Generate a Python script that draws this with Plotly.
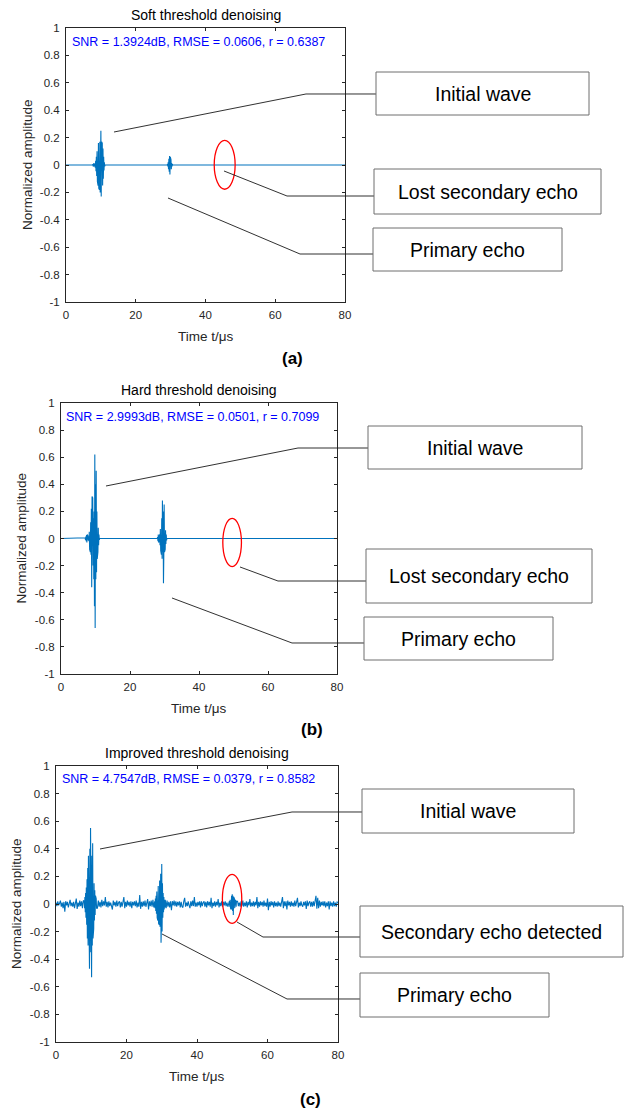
import numpy as np
import plotly.graph_objects as go

W, H = 624, 1109

# ---------------- data ----------------
time_ticks = [0, 20, 40, 60, 80]
amp_ticks = [-1, -0.8, -0.6, -0.4, -0.2, 0, 0.2, 0.4, 0.6, 0.8, 1]
amp_tick_labels = ["-1", "-0.8", "-0.6", "-0.4", "-0.2", "0", "0.2", "0.4", "0.6", "0.8", "1"]

burst_step = 0.1   # us between burst samples
noise_step = 0.25  # us between background samples

# (a) soft threshold
soft_b1_start = 7.6
soft_b1 = [0.0, 0.006, -0.01, 0.012, -0.012, 0.01, -0.008, 0.012, -0.02, 0.03,
           -0.045, 0.06, -0.08, 0.1, -0.12, 0.13, -0.15, 0.16, -0.17, 0.15,
           -0.18, 0.17, -0.2, 0.18, 0.25, -0.23, 0.17, -0.19, 0.16, -0.15,
           0.12, -0.1, 0.06, -0.04, 0.02, -0.01, 0.0]
soft_b2_start = 29.0
soft_b2 = [0.0, 0.005, -0.01, 0.02, -0.03, 0.045, -0.05, 0.065, -0.07, 0.06,
           -0.05, 0.04, -0.03, 0.015, -0.01, 0.005, 0.0]

# (b) hard threshold
hard_b1_start = 6.9
hard_b1 = [0.0, 0.005, -0.01, 0.015, -0.02, 0.025, -0.03, 0.03, -0.025, 0.02,
           -0.015, 0.01, -0.02, 0.05, -0.08, 0.1, -0.1, 0.12, -0.12, 0.22,
           -0.36, 0.31, -0.25, 0.3, -0.2, 0.15, -0.3, 0.2, -0.5, 0.62,
           -0.66, 0.4, -0.3, 0.5, -0.25, 0.2, -0.15, 0.12, -0.1, 0.08,
           -0.05, 0.03, -0.01, 0.0]
hard_b2_start = 27.9
hard_b2 = [0.0, 0.01, -0.02, 0.03, -0.03, 0.025, -0.02, 0.03, -0.05, 0.07,
           -0.09, 0.1, -0.12, 0.15, -0.15, 0.28, -0.1, 0.2, -0.33, -0.12,
           0.25, -0.1, 0.1, -0.08, 0.06, -0.04, 0.03, -0.015, 0.0]

# (c) improved threshold
imp_b1_start = 8.0
imp_b1 = [0.02, -0.03, 0.05, -0.06, 0.08, -0.1, 0.12, -0.15, 0.18, -0.25,
          0.26, -0.3, 0.35, -0.32, 0.3, -0.47, 0.4, -0.35, 0.55, -0.4,
          0.45, -0.53, 0.35, -0.3, 0.44, -0.25, 0.2, -0.18, 0.15, -0.12,
          0.1, -0.08, 0.06, -0.05, 0.04, -0.03]
imp_b2_start = 28.0
imp_b2 = [0.02, -0.03, 0.04, -0.05, 0.06, -0.07, 0.09, -0.1, 0.12, -0.12,
          0.13, -0.14, 0.15, -0.15, 0.17, -0.16, -0.16, 0.22, -0.28, -0.15,
          0.29, -0.2, 0.15, -0.1, 0.08, -0.06, 0.05, -0.04, 0.03, -0.025]
imp_echo_start = 49.2
imp_echo = [0.02, -0.02, 0.03, -0.03, 0.04, -0.04, 0.06, -0.04, 0.07, -0.05,
            0.06, -0.08, 0.05, -0.04, 0.04, -0.03, 0.03, -0.025, 0.025, -0.02, 0.02]
imp_noise = [
    0.01, -0.015, 0.02, -0.01, 0.005, 0.025, -0.02, 0.01, -0.03, 0.015,
    -0.055, 0.02, -0.01, 0.015, -0.025, 0.02, 0.03, -0.015, 0.01, -0.02,
    0.015, -0.03, 0.02, 0.04, -0.035, 0.01, -0.02, 0.025, -0.015, 0.02,
    -0.03, 0.025, 0.03, -0.04, 0.05, -0.06, 0.08, -0.1, 0.1, -0.1,
    0.1, -0.1, 0.08, -0.06, 0.05, -0.04, 0.03, -0.03, 0.025, -0.02,
    0.015, -0.025, 0.03, -0.015, 0.02, -0.01, 0.05, -0.02, 0.015, -0.025,
    0.02, -0.015, 0.01, -0.02, -0.04, 0.025, -0.01, 0.015, -0.02, 0.025,
    -0.015, 0.01, 0.02, -0.025, 0.015, -0.02, 0.01, 0.05, -0.03, 0.015,
    -0.02, 0.025, -0.01, 0.015, -0.02, 0.02, -0.03, 0.015, -0.01, 0.02,
    -0.015, 0.025, -0.025, 0.01, -0.02, 0.065, -0.035, 0.015, -0.02, 0.02,
    -0.015, 0.025, -0.02, 0.01, 0.035, -0.04, 0.02, -0.015, 0.025, -0.02,
    0.03, -0.025, 0.03, -0.03, 0.03, -0.03, 0.03, -0.03, 0.03, -0.03,
    0.03, -0.03, 0.03, -0.03, 0.03, -0.03, 0.025, -0.02, 0.015, -0.025,
    0.02, -0.045, 0.02, -0.01, 0.025, -0.015, 0.02, -0.02, 0.015, -0.01,
    0.02, -0.025, 0.015, -0.02, -0.025, 0.02, 0.045, -0.02, 0.01, -0.015,
    0.02, -0.01, -0.03, 0.02, -0.015, 0.025, -0.015, 0.05, -0.02, 0.01,
    -0.02, 0.015, -0.01, 0.02, -0.025, 0.02, -0.015, 0.01, 0.02, -0.02,
    0.015, -0.025, 0.02, -0.01, 0.015, -0.02, 0.045, -0.03, 0.01, -0.015,
    0.02, -0.02, 0.015, -0.01, 0.035, -0.025, 0.01, -0.015, 0.02, -0.02,
    0.015, -0.01, 0.02, -0.015, 0.01, -0.02, 0.02, -0.02, 0.02, -0.02,
    0.02, -0.02, 0.02, -0.02, 0.02, -0.02, 0.02, -0.015, 0.01, -0.02,
    0.02, -0.015, 0.025, -0.02, 0.01, -0.015, 0.02, -0.025, 0.015, -0.01,
    0.035, -0.02, 0.01, -0.015, 0.02, -0.02, 0.015, -0.01, 0.05, -0.03,
    0.015, -0.02, 0.02, -0.01, 0.015, -0.02, 0.025, -0.015, 0.01, -0.02,
    0.04, -0.045, 0.015, -0.02, 0.02, -0.01, 0.015, -0.025, 0.02, -0.015,
    0.01, -0.02, 0.02, -0.015, 0.01, -0.02, 0.015, 0.05, -0.03, 0.02,
    -0.015, 0.02, -0.04, 0.025, -0.01, 0.015, -0.02, 0.02, -0.015, 0.01,
    -0.02, 0.025, -0.015, 0.02, 0.045, -0.025, 0.01, -0.015, 0.02, -0.01,
    -0.02, 0.015, -0.01, 0.02, -0.035, 0.025, -0.015, 0.01, 0.02, -0.02,
    0.015, -0.02, 0.02, -0.015, 0.03, 0.06, -0.035, 0.045, -0.03, 0.025,
    -0.02, 0.015, -0.01, 0.02, -0.015, 0.02, -0.025, 0.01, -0.015, 0.02,
    -0.04, 0.02, -0.015, 0.01, -0.02, 0.02, -0.015, 0.01, -0.02, 0.015,
    0.01]

titles = ["Soft threshold denoising", "Hard threshold denoising", "Improved threshold denoising"]
metrics = ["SNR = 1.3924dB, RMSE = 0.0606, r = 0.6387",
           "SNR = 2.9993dB, RMSE = 0.0501, r = 0.7099",
           "SNR = 4.7547dB, RMSE = 0.0379, r = 0.8582"]
panel_tags = ["(a)", "(b)", "(c)"]
box_labels = [["Initial wave", "Lost secondary echo", "Primary echo"],
              ["Initial wave", "Lost secondary echo", "Primary echo"],
              ["Initial wave", "Secondary echo detected", "Primary echo"]]

# ---------------- helpers ----------------
def burst_xy(start, vals):
    t = start + burst_step * np.arange(len(vals))
    return t, np.array(vals, dtype=float)

def flat_trace(bursts):
    ts, vs = [np.array([0.0])], [np.array([0.0])]
    for s, v in bursts:
        t, y = burst_xy(s, v)
        ts.append(t); vs.append(y)
    ts.append(np.array([80.0])); vs.append(np.array([0.0]))
    return np.concatenate(ts), np.concatenate(vs)

def noisy_trace(noise, bursts):
    nt = noise_step * np.arange(len(noise))
    nv = np.array(noise, dtype=float)
    keep = np.ones(len(nt), bool)
    ts, vs = [], []
    for s, v in bursts:
        t, y = burst_xy(s, v)
        keep &= ~((nt >= t[0] - 0.05) & (nt <= t[-1] + 0.05))
        ts.append(t); vs.append(y)
    ts.append(nt[keep]); vs.append(nv[keep])
    t = np.concatenate(ts); v = np.concatenate(vs)
    o = np.argsort(t, kind="stable")
    return t[o], v[o]

traces = [
    flat_trace([(soft_b1_start, soft_b1), (soft_b2_start, soft_b2)]),
    flat_trace([(hard_b1_start, hard_b1), (hard_b2_start, hard_b2)]),
    noisy_trace(imp_noise, [(imp_b1_start, imp_b1), (imp_b2_start, imp_b2), (imp_echo_start, imp_echo)]),
]

def PX(x):
    return x / W

def PY(y):
    return 1 - y / H

# ---------------- layout geometry (pixels) ----------------
axes_px = [  # left, right, top, bottom
    (66, 345, 28, 302),
    (61, 337, 403, 674),
    (56, 338, 766, 1042),
]
FONT = "Liberation Sans, Arial, Helvetica, sans-serif"
AXC = "#262626"
BLUE = "#0072BD"

fig = go.Figure()
layout = dict(width=W, height=H, autosize=False,
              margin=dict(l=0, r=0, t=0, b=0, pad=0, autoexpand=False),
              paper_bgcolor="white", plot_bgcolor="white", showlegend=False,
              font=dict(family=FONT, size=12, color=AXC))

annotations = []
shapes = []

ellipses = [  # x0, x1, y0, y1 in data units
    (42.5, 48.5, -0.177, 0.18),
    (46.9, 52.3, -0.207, 0.149),
    (47.2, 52.7, -0.14, 0.215),
]
leaders = [  # three polylines per panel, pixel coords
    [[(114, 132), (306, 94), (376, 94)],
     [(224, 171), (287, 196), (374, 196)],
     [(168, 198), (300, 254), (373, 254)]],
    [[(106, 486), (298, 448), (368, 448)],
     [(240, 567), (278, 581), (366, 581)],
     [(172, 598), (292, 643), (364, 643)]],
    [[(100, 849), (292, 812), (362, 812)],
     [(237, 922), (263, 937), (360, 937)],
     [(162, 934), (287, 999), (360, 999)]],
]
boxes = [  # x0, x1, y0, y1 pixels
    [(376, 589, 72, 115), (374, 601, 169, 214), (373, 562, 228, 271)],
    [(368, 582, 426, 469), (366, 592, 549, 603), (364, 553, 617, 660)],
    [(362, 574, 789, 833), (360, 623, 906, 957), (360, 549, 973, 1017)],
]
metric_pos = [(70, 42), (64, 417), (60, 779)]
tag_pos = [(292, 358), (312, 729), (310, 1099)]
ylab_x = [27, 21, 16]

for i, (t, v) in enumerate(traces):
    sfx = "" if i == 0 else str(i + 1)
    fig.add_trace(go.Scatter(x=t, y=v, mode="lines", line=dict(color=BLUE, width=1.1),
                             xaxis="x" + sfx, yaxis="y" + sfx, hoverinfo="skip"))
    l, r, tp, b = axes_px[i]
    layout["xaxis" + sfx] = dict(
        domain=[PX(l), PX(r)], anchor="y" + sfx, range=[0, 80],
        tickvals=time_ticks, ticktext=[str(x) for x in time_ticks],
        ticks="inside", ticklen=3, tickcolor=AXC, showline=True, linecolor=AXC,
        linewidth=1, mirror="ticks", showgrid=False, zeroline=False, automargin=False,
        tickfont=dict(size=11.5, color=AXC, family=FONT), ticklabelstandoff=2)
    layout["yaxis" + sfx] = dict(
        domain=[PY(b), PY(tp)], anchor="x" + sfx, range=[-1, 1],
        tickvals=amp_ticks, ticktext=amp_tick_labels,
        ticks="inside", ticklen=3, tickcolor=AXC, showline=True, linecolor=AXC,
        linewidth=1, mirror="ticks", showgrid=False, zeroline=False, automargin=False,
        tickfont=dict(size=11.5, color=AXC, family=FONT), ticklabelstandoff=3)
    cx = (l + r) / 2
    cy = (tp + b) / 2
    annotations += [
        dict(text=titles[i], x=PX(cx), y=PY(tp - 13), xref="paper", yref="paper",
             showarrow=False, xanchor="center", yanchor="middle",
             font=dict(size=14, color="black", family=FONT)),
        dict(text="Time t/μs", x=PX(cx), y=PY(b + 34), xref="paper", yref="paper",
             showarrow=False, xanchor="center", yanchor="middle",
             font=dict(size=13.5, color=AXC, family=FONT)),
        dict(text="Normalized amplitude", x=PX(ylab_x[i]), y=PY(cy), xref="paper", yref="paper",
             showarrow=False, xanchor="center", yanchor="middle", textangle=-90,
             font=dict(size=13.5, color=AXC, family=FONT)),
        dict(text=metrics[i], x=PX(metric_pos[i][0]), y=PY(metric_pos[i][1]), xref="paper", yref="paper",
             showarrow=False, xanchor="left", yanchor="middle",
             font=dict(size=12.5, color="#0000FF", family=FONT)),
        dict(text="<b>%s</b>" % panel_tags[i], x=PX(tag_pos[i][0]), y=PY(tag_pos[i][1]), xref="paper", yref="paper",
             showarrow=False, xanchor="center", yanchor="middle",
             font=dict(size=17, color="black", family=FONT)),
    ]
    ex0, ex1, ey0, ey1 = ellipses[i]
    shapes.append(dict(type="circle", xref="x" + sfx, yref="y" + sfx, x0=ex0, x1=ex1, y0=ey0, y1=ey1,
                       line=dict(color="#FF0000", width=1.3)))
    for poly in leaders[i]:
        path = "M " + " L ".join("%.5f,%.5f" % (PX(px), PY(py)) for px, py in poly)
        shapes.append(dict(type="path", xref="paper", yref="paper", path=path,
                           line=dict(color="#1a1a1a", width=0.9)))
    for (bx0, bx1, by0, by1), lab in zip(boxes[i], box_labels[i]):
        shapes.append(dict(type="rect", xref="paper", yref="paper",
                           x0=PX(bx0), x1=PX(bx1), y0=PY(by1), y1=PY(by0),
                           line=dict(color="#6e6e6e", width=1), fillcolor="white"))
        annotations.append(dict(text=lab, x=PX((bx0 + bx1) / 2), y=PY((by0 + by1) / 2),
                                xref="paper", yref="paper", showarrow=False,
                                xanchor="center", yanchor="middle",
                                font=dict(size=19.5, color="black", family=FONT)))

layout["annotations"] = annotations
layout["shapes"] = shapes
fig.update_layout(**layout)
fig.write_html("out.html", config={"displayModeBar": False},
               post_script="document.body.style.margin='0px';document.body.style.overflow='hidden';")
